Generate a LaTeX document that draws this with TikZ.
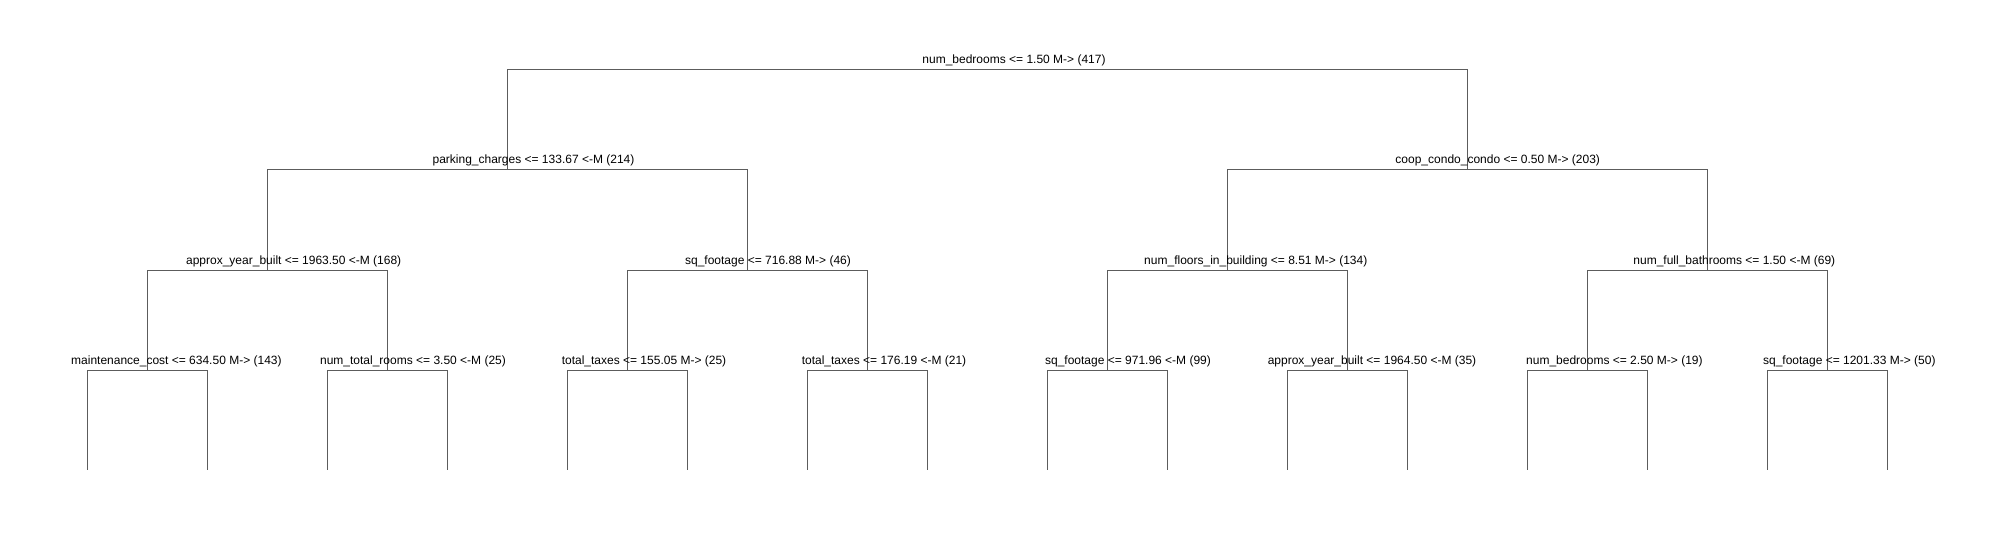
\documentclass[tikz,border=0pt]{standalone}
\usepackage{fontspec}
\setmainfont{Liberation Sans}
\definecolor{linec}{RGB}{92,92,92}
\begin{document}
\begin{tikzpicture}[x=1pt,y=-1pt,
  edge/.style={draw=linec,line width=1pt},
  lbl/.style={anchor=base,inner sep=0pt,font=\fontsize{12}{14}\selectfont,text=black}]
\useasboundingbox[fill=white] (0,0) rectangle (2005,540);
% tree points
\coordinate (r) at (987.5,70);
\coordinate (a) at (507.5,170);
\coordinate (b) at (1467.5,170);
\coordinate (aa) at (267.5,270);
\coordinate (ab) at (747.5,270);
\coordinate (ba) at (1227.5,270);
\coordinate (bb) at (1707.5,270);
\coordinate (aaa) at (147.5,370);
\coordinate (aab) at (387.5,370);
\coordinate (aba) at (627.5,370);
\coordinate (abb) at (867.5,370);
\coordinate (baa) at (1107.5,370);
\coordinate (bab) at (1347.5,370);
\coordinate (bba) at (1587.5,370);
\coordinate (bbb) at (1827.5,370);
\foreach \i in {0,...,15}{\coordinate (l\i) at ({87.5+120*\i},470);}
% connectors
\draw[edge] (r) -| (a); \draw[edge] (r) -| (b);
\draw[edge] (a) -| (aa); \draw[edge] (a) -| (ab);
\draw[edge] (b) -| (ba); \draw[edge] (b) -| (bb);
\draw[edge] (aa) -| (aaa); \draw[edge] (aa) -| (aab);
\draw[edge] (ab) -| (aba); \draw[edge] (ab) -| (abb);
\draw[edge] (ba) -| (baa); \draw[edge] (ba) -| (bab);
\draw[edge] (bb) -| (bba); \draw[edge] (bb) -| (bbb);
\draw[edge] (aaa) -| (l0); \draw[edge] (aaa) -| (l1);
\draw[edge] (aab) -| (l2); \draw[edge] (aab) -| (l3);
\draw[edge] (aba) -| (l4); \draw[edge] (aba) -| (l5);
\draw[edge] (abb) -| (l6); \draw[edge] (abb) -| (l7);
\draw[edge] (baa) -| (l8); \draw[edge] (baa) -| (l9);
\draw[edge] (bab) -| (l10); \draw[edge] (bab) -| (l11);
\draw[edge] (bba) -| (l12); \draw[edge] (bba) -| (l13);
\draw[edge] (bbb) -| (l14); \draw[edge] (bbb) -| (l15);
% labels
\node[lbl] (tr) at (1014,64) {num\_bedrooms <= 1.50 M-> (417)};
\node[lbl] (ta) at (533.5,164) {parking\_charges <= 133.67 <-M (214)};
\node[lbl] (tb) at (1497.7,164) {coop\_condo\_condo <= 0.50 M-> (203)};
\node[lbl] (taa) at (293.7,264) {approx\_year\_built <= 1963.50 <-M (168)};
\node[lbl] (tab) at (768,264) {sq\_footage <= 716.88 M-> (46)};
\node[lbl] (tba) at (1255.8,264) {num\_floors\_in\_building <= 8.51 M-> (134)};
\node[lbl] (tbb) at (1734.3,264) {num\_full\_bathrooms <= 1.50 <-M (69)};
\node[lbl] (taaa) at (176.4,364) {maintenance\_cost <= 634.50 M-> (143)};
\node[lbl] (taab) at (413,364) {num\_total\_rooms <= 3.50 <-M (25)};
\node[lbl] (taba) at (644,364) {total\_taxes <= 155.05 M-> (25)};
\node[lbl] (tabb) at (884,364) {total\_taxes <= 176.19 <-M (21)};
\node[lbl] (tbaa) at (1128,364) {sq\_footage <= 971.96 <-M (99)};
\node[lbl] (tbab) at (1372,364) {approx\_year\_built <= 1964.50 <-M (35)};
\node[lbl] (tbba) at (1614.4,364) {num\_bedrooms <= 2.50 M-> (19)};
\node[lbl] (tbbb) at (1849.3,364) {sq\_footage <= 1201.33 M-> (50)};
\end{tikzpicture}
\end{document}
